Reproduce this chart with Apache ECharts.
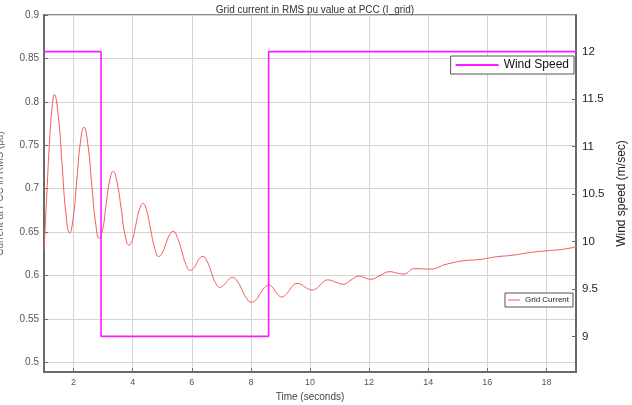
<!DOCTYPE html>
<html>
<head>
<meta charset="utf-8">
<script src="https://cdn.jsdelivr.net/npm/echarts@6/dist/echarts.min.js"></script>
<style>
html,body{margin:0;padding:0;background:#fff;}
#chart{width:632px;height:405px;}
</style>
</head>
<body>
<div id="chart"></div>
<script>
// Grid current (pu) vs time (s)
var currentTime = [1.00,1.09,1.18,1.27,1.35,1.48,1.61,1.74,1.87,1.99,2.11,2.23,2.35,2.48,2.61,2.74,2.87,2.99,3.10,3.22,3.34,3.47,3.61,3.74,3.88,4.00,4.11,4.23,4.35,4.48,4.61,4.75,4.88,5.00,5.12,5.25,5.37,5.51,5.66,5.80,5.95,6.05,6.16,6.26,6.37,6.51,6.66,6.80,6.95,7.05,7.16,7.26,7.37,7.53,7.70,7.86,8.02,8.17,8.31,8.46,8.61,8.72,8.82,8.93,9.04,9.17,9.30,9.43,9.56,9.69,9.82,9.95,10.08,10.21,10.34,10.48,10.61,10.86,11.12,11.39,11.66,11.85,12.04,12.37,12.70,12.93,13.17,13.54,14.05,14.61,15.18,15.74,16.30,16.87,17.43,17.99,18.50,19.00];
var currentValues = [0.628,0.690,0.750,0.792,0.8085,0.785,0.729,0.672,0.649,0.667,0.710,0.753,0.771,0.752,0.707,0.662,0.643,0.654,0.6815,0.709,0.720,0.7076,0.6775,0.647,0.635,0.642,0.659,0.676,0.683,0.674,0.6525,0.631,0.622,0.626,0.6365,0.647,0.651,0.644,0.6285,0.613,0.606,0.608,0.614,0.620,0.622,0.617,0.604,0.592,0.5865,0.588,0.592,0.596,0.598,0.594,0.5837,0.5735,0.5693,0.572,0.579,0.586,0.589,0.587,0.582,0.5774,0.5754,0.5777,0.583,0.5887,0.591,0.590,0.587,0.5845,0.5834,0.585,0.589,0.5935,0.595,0.5925,0.590,0.595,0.5994,0.5975,0.5957,0.600,0.6045,0.603,0.6017,0.608,0.6075,0.613,0.617,0.6185,0.6216,0.6235,0.6265,0.6285,0.630,0.633];
// Wind speed (m/s) step profile
var windTime = [1, 2.93, 2.93, 8.6, 8.6, 19];
var windValues = [12, 12, 9, 9, 12, 12];

var titleText = 'Grid current in RMS pu value at PCC (I_grid)';
var xName = 'Time (seconds)';
var yLeftName = 'Current at PCC in RMS (pu)';
var yRightName = 'Wind speed (m/sec)';
var currentName = 'Grid Current';
var windName = 'Wind Speed';

var currentData = currentTime.map(function(t,i){return [t, currentValues[i]];});
var windData = windTime.map(function(t,i){return [t, windValues[i]];});

var FF = 'Liberation Sans, Arial, sans-serif';
var chart = echarts.init(document.getElementById('chart'), null, {renderer:'canvas'});
chart.setOption({
  animation:false,
  backgroundColor:'#ffffff',
  textStyle:{fontFamily:FF},
  title:{text:titleText,left:310,textAlign:'center',top:0,
    textStyle:{fontSize:10,fontWeight:'normal',color:'#333',fontFamily:FF}},
  grid:{left:44,right:56,top:15,bottom:33,outerBoundsMode:'none',containLabel:false,
    show:true,borderColor:'#6a6a6a',borderWidth:1.5,backgroundColor:'transparent'},
  legend:[
    {data:[{name:windName,icon:'rect'}],right:58,top:56,itemWidth:43,itemHeight:2,itemGap:5,
     padding:[3,5,3,5],borderColor:'#555',borderWidth:1,backgroundColor:'#fff',
     textStyle:{fontSize:12,color:'#111',fontFamily:FF}},
    {data:[{name:currentName,icon:'rect'}],right:59,top:293,itemWidth:12,itemHeight:1,itemGap:3,
     padding:[3,4,3,3],borderColor:'#555',borderWidth:1,backgroundColor:'#fff',
     textStyle:{fontSize:8,color:'#222',fontFamily:FF}}
  ],
  xAxis:{type:'value',min:1,max:19,splitNumber:9,
    name:xName,nameLocation:'middle',nameGap:16,
    nameTextStyle:{fontSize:10,color:'#444',fontFamily:FF},
    axisLine:{show:true,lineStyle:{color:'#6a6a6a',width:2}},
    axisTick:{show:true,inside:true,length:4,lineStyle:{color:'#6a6a6a'}},
    axisLabel:{showMinLabel:false,showMaxLabel:false,fontSize:9,color:'#555',margin:6,fontFamily:FF},
    splitLine:{show:true,lineStyle:{color:'#d4d4d4',width:1}}},
  yAxis:[
    {type:'value',min:0.489,max:0.9,splitNumber:8,position:'left',
     name:yLeftName,nameLocation:'middle',nameGap:39,nameRotate:90,
     nameTextStyle:{fontSize:10,color:'#666',fontFamily:FF},
     axisLine:{show:true,lineStyle:{color:'#6a6a6a',width:2}},
     axisTick:{show:true,inside:true,length:4,lineStyle:{color:'#6a6a6a'}},
     axisLabel:{showMinLabel:false,fontSize:10,color:'#555',margin:5,fontFamily:FF,
       formatter:function(v){return String(Math.round(v*100)/100);}},
     splitLine:{show:true,lineStyle:{color:'#d4d4d4',width:1}}},
    {type:'value',min:8.625,max:12.386,splitNumber:8,position:'right',
     name:yRightName,nameLocation:'middle',nameGap:35,nameRotate:90,
     nameTextStyle:{fontSize:12,color:'#222',fontFamily:FF},
     axisLine:{show:true,lineStyle:{color:'#6a6a6a',width:2}},
     axisTick:{show:true,inside:true,length:4,lineStyle:{color:'#6a6a6a'}},
     axisLabel:{showMinLabel:false,showMaxLabel:false,fontSize:11.5,color:'#222',margin:6,fontFamily:FF},
     splitLine:{show:false}}
  ],
  series:[
    {name:currentName,type:'line',yAxisIndex:0,data:currentData,smooth:0.5,showSymbol:false,
     lineStyle:{color:'#f25a5a',width:1},itemStyle:{color:'#f25a5a'},z:3},
    {name:windName,type:'line',yAxisIndex:1,data:windData,smooth:false,showSymbol:false,
     lineStyle:{color:'#ff1aff',width:1.6},itemStyle:{color:'#ff1aff'},z:4}
  ]
});
</script>
</body>
</html>
